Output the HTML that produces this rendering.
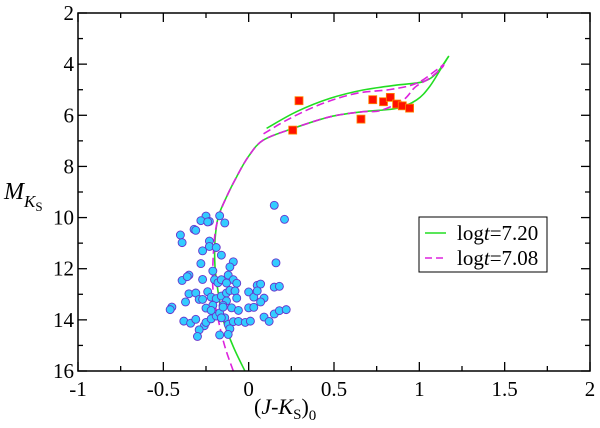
<!DOCTYPE html>
<html><head><meta charset="utf-8"><style>
html,body{margin:0;padding:0;background:#fff;}
body{position:relative;width:600px;height:428px;}
svg{display:block;}
text,tspan{font-family:"Liberation Serif","Times New Roman",Times,"DejaVu Serif",serif;}
</style></head><body>
<svg id="chart" width="600" height="428" viewBox="0 0 600 428" xmlns="http://www.w3.org/2000/svg">
<g id="plot"></g>
</svg>
<script>
const xTicks=[-1,-0.5,0,0.5,1,1.5,2];
const xTickLabels=["-1","-0.5","0","0.5","1","1.5","2"];
const yTicks=[2,4,6,8,10,12,14,16];
const yTickLabels=["2","4","6","8","10","12","14","16"];
const msX=[-0.40,-0.39,-0.32,-0.31,-0.25,-0.23,-0.28,-0.24,-0.17,-0.14,-0.23,-0.23,-0.27,-0.19,-0.28,-0.16,-0.27,-0.20,-0.39,-0.35,-0.36,-0.21,-0.09,-0.11,-0.12,-0.09,-0.18,-0.16,-0.13,-0.07,-0.35,-0.37,-0.31,-0.29,-0.27,-0.24,-0.22,-0.19,-0.16,-0.13,-0.11,-0.08,-0.07,-0.13,-0.15,-0.21,-0.25,-0.10,-0.06,-0.45,-0.46,-0.38,-0.34,-0.31,-0.26,-0.25,-0.29,-0.30,-0.22,-0.19,-0.17,-0.14,-0.12,-0.09,-0.11,-0.06,-0.02,0.01,0.00,0.03,0.00,0.03,0.05,0.07,0.05,0.09,0.07,0.09,0.12,0.15,0.18,0.22,0.15,0.18,0.16,0.15,0.21,-0.17,-0.22,-0.16,-0.12,-0.15];
const msY=[10.68,10.98,10.46,10.50,9.94,10.15,10.12,10.17,9.93,10.21,10.92,11.13,11.30,11.17,11.80,11.47,12.42,12.43,12.46,12.25,12.31,12.09,11.73,11.93,12.25,12.43,12.55,12.43,12.56,12.57,12.98,13.30,12.95,13.20,13.20,12.90,13.11,13.17,13.07,12.95,12.85,12.87,13.15,13.26,13.43,13.43,13.54,13.53,13.63,13.50,13.60,14.05,14.13,13.98,14.23,14.10,14.39,14.65,13.96,13.85,13.73,13.92,14.18,14.07,14.35,14.06,14.10,14.05,13.53,13.51,12.91,13.11,12.65,12.60,12.87,13.15,13.30,13.89,14.06,13.77,13.64,13.60,12.72,12.69,11.77,9.52,10.07,14.59,13.63,13.92,14.57,13.50];
const giantX=[0.295,0.258,0.658,0.727,0.79,0.83,0.867,0.90,0.943];
const giantY=[5.43,6.58,6.15,5.39,5.47,5.30,5.56,5.63,5.72];
const iso720X=[-0.022,-0.09,-0.149,-0.178,-0.197,-0.197,-0.178,-0.129,-0.07,-0.002,0.086,0.262,0.476,0.67,0.867,0.984,1.06,1.14,1.17,1.10,1.02,0.867,0.67,0.476,0.28,0.105];
const iso720Y=[16,15.05,14.0,12.96,11.92,10.88,9.97,9.18,8.40,7.62,6.97,6.51,6.06,5.86,5.73,5.40,4.88,4.03,3.71,4.36,4.69,4.82,5.01,5.34,5.86,6.51];
const iso708X=[-0.09,-0.139,-0.178,-0.207,-0.21,-0.197,-0.17,-0.129,-0.07,-0.002,0.086,0.262,0.476,0.67,0.77,0.906,0.975,1.06,1.13,1.14,1.10,0.984,0.83,0.633,0.437,0.242,0.076];
const iso708Y=[16,15.05,14.0,12.96,11.92,10.63,9.85,9.18,8.40,7.62,6.97,6.51,6.06,5.86,5.82,5.40,4.90,4.55,4.16,4.03,4.23,4.75,4.99,5.14,5.53,6.12,6.77];

const L=78,R=590,T=13,B=371,x0=-1,x1=2,y0=2,y1=16;
const sx=v=>L+(v-x0)/(x1-x0)*(R-L);
const sy=v=>T+(v-y0)/(y1-y0)*(B-T);
const NS="http://www.w3.org/2000/svg";
const g=document.getElementById('plot');
function mk(tag,attrs,parent){const e=document.createElementNS(NS,tag);for(const k in attrs)e.setAttribute(k,attrs[k]);(parent||g).appendChild(e);return e;}

const tg=mk('g',{});


for(let i=0;i<xTicks.length;i++){
  const v=xTicks[i],X=sx(v);
  mk('line',{x1:X,y1:B,x2:X,y2:B-9,stroke:'#000','stroke-width':1.3},tg);
  mk('line',{x1:X,y1:T,x2:X,y2:T+9,stroke:'#000','stroke-width':1.3},tg);
  if(i<xTicks.length-1){const m=sx(v+0.25);
    mk('line',{x1:m,y1:B,x2:m,y2:B-5,stroke:'#000','stroke-width':1.3},tg);
    mk('line',{x1:m,y1:T,x2:m,y2:T+5,stroke:'#000','stroke-width':1.3},tg);}
  const t=mk('text',{x:X,y:B+25,'font-size':21,'text-anchor':'middle'});
  
  
  t.textContent=xTickLabels[i];
}
for(let i=0;i<yTicks.length;i++){
  const v=yTicks[i],Y=sy(v);
  mk('line',{x1:L,y1:Y,x2:L+9,y2:Y,stroke:'#000','stroke-width':1.3},tg);
  mk('line',{x1:R,y1:Y,x2:R-9,y2:Y,stroke:'#000','stroke-width':1.3},tg);
  if(i<yTicks.length-1){const m=sy(v+1);
    mk('line',{x1:L,y1:m,x2:L+5,y2:m,stroke:'#000','stroke-width':1.3},tg);
    mk('line',{x1:R,y1:m,x2:R-5,y2:m,stroke:'#000','stroke-width':1.3},tg);}
  const t=mk('text',{x:L-4,y:Y+7,'font-size':21,'text-anchor':'end'});
  
  
  t.textContent=yTickLabels[i];
}

function pathD(xs,ys){
  const P=xs.map((v,i)=>[sx(v),sy(ys[i])]);
  let d='M'+P[0][0].toFixed(1)+' '+P[0][1].toFixed(1);
  for(let i=0;i<P.length-1;i++){
    const p0=P[Math.max(i-1,0)],p1=P[i],p2=P[i+1],p3=P[Math.min(i+2,P.length-1)];
    const c1=[p1[0]+(p2[0]-p0[0])/6,p1[1]+(p2[1]-p0[1])/6];
    const c2=[p2[0]-(p3[0]-p1[0])/6,p2[1]-(p3[1]-p1[1])/6];
    d+=' C'+c1[0].toFixed(1)+' '+c1[1].toFixed(1)+' '+c2[0].toFixed(1)+' '+c2[1].toFixed(1)+' '+p2[0].toFixed(1)+' '+p2[1].toFixed(1);
  }
  return d;
}
const p1=mk('path',{d:pathD(iso720X,iso720Y),fill:'none',stroke:'#22dd22','stroke-width':1.6,'stroke-linejoin':'round'});


const p2=mk('path',{d:pathD(iso708X,iso708Y),fill:'none',stroke:'#dd22dd','stroke-width':1.6,'stroke-dasharray':'8 4'});



for(let i=0;i<msX.length;i++){
  const c=mk('circle',{cx:sx(msX[i]),cy:sy(msY[i]),r:4,fill:'#33ccff',stroke:'#6633cc','stroke-width':0.9});
  
  
}
for(let i=0;i<giantX.length;i++){
  const r=mk('rect',{x:sx(giantX[i])-4,y:sy(giantY[i])-4,width:8,height:8,fill:'#ff1100',stroke:'#ff8800','stroke-width':0.8});
  
  
}

const fr=mk('rect',{x:L,y:T,width:R-L,height:B-T,fill:'none',stroke:'#000','stroke-width':1.5});


</script>
<svg style="position:absolute;left:0;top:0" width="600" height="428" xmlns="http://www.w3.org/2000/svg">
<g>
<rect x="419" y="217" width="128" height="55" fill="#fff" stroke="#000" stroke-width="1"/>
<line x1="425" y1="233" x2="446" y2="233" stroke="#22dd22" stroke-width="1.6"/>
<text x="457" y="240" font-size="21">log<tspan font-style="italic">t</tspan>=7.20</text>
<line x1="425" y1="258" x2="446" y2="258" stroke="#dd22dd" stroke-width="1.6" stroke-dasharray="7 4"/>
<text x="457" y="265" font-size="21">log<tspan font-style="italic">t</tspan>=7.08</text>
</g>
<text x="4" y="199" font-size="24"><tspan font-style="italic">M</tspan><tspan font-size="17" font-style="italic" dy="8">K</tspan><tspan font-size="13" dy="4">S</tspan></text>
<text x="254" y="414" font-size="22">(<tspan font-style="italic">J</tspan>-<tspan font-style="italic">K</tspan><tspan font-size="15" dy="5">S</tspan><tspan dy="-5">)</tspan><tspan font-size="15" dy="6">0</tspan></text>
</svg>
</body></html>
